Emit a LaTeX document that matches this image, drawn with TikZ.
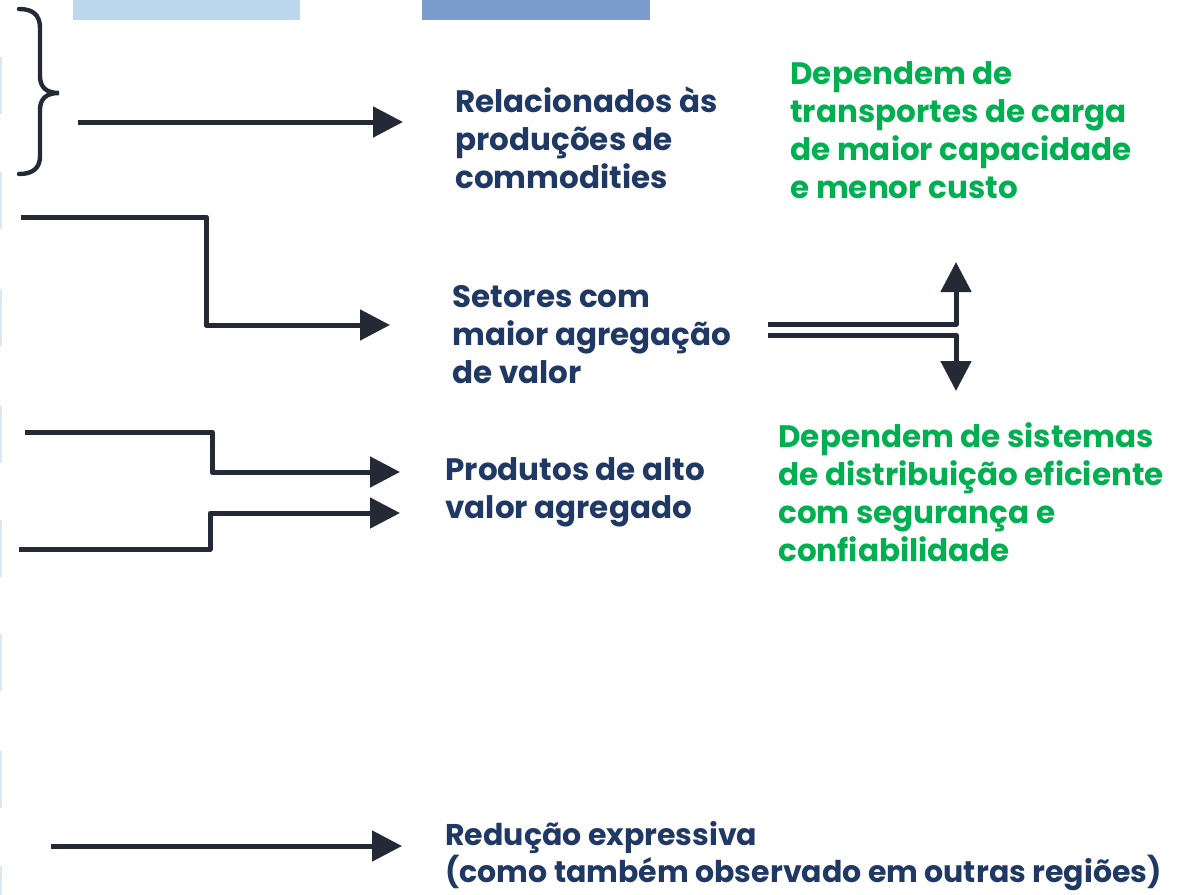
\documentclass[tikz,border=0pt]{standalone}
\usepackage{fontspec}
\setmainfont{Poppins}
\usetikzlibrary{arrows.meta,positioning}
\definecolor{arrowgray}{HTML}{232A35}
\definecolor{txtblue}{HTML}{203864}
\definecolor{txtgreen}{HTML}{00B050}
\definecolor{barlight}{HTML}{BDD7EE}
\definecolor{bardark}{HTML}{7A9CCC}
\definecolor{stripblue}{HTML}{DCE7F4}
\tikzset{
	flow/.style={draw=arrowgray, line width=2.5pt, line join=round, -{Triangle[length=15pt,width=15pt]}},
	brace/.style={draw=arrowgray, line width=2.2pt, line cap=round},
	bluetxt/.style={anchor=west, inner sep=0pt, align=left, text=txtblue, font=\bfseries\fontsize{15.5}{19}\selectfont},
	greentxt/.style={bluetxt, text=txtgreen}
}

\begin{document}
\begin{tikzpicture}[x=0.5pt,y=-0.5pt]
	\useasboundingbox (0,0) rectangle (1188,894);
	% bars and strips
	\fill[barlight] (73,0) rectangle (300,20);
	\fill[bardark] (422,0) rectangle (650,20);
	\foreach \y in {57,172,289,406,520,634,751,866}
		\fill[stripblue] (0,\y) rectangle (2,\y+57);
	% texts
	\node (comm) at (455,138) [bluetxt] {Relacionados às\\produções de\\commodities};
	\node (carga) at (790,130) [greentxt] {Dependem de\\transportes de carga\\de maior capacidade\\e menor custo};
	\node (setor) at (452,335) [bluetxt] {Setores com\\maior agregação\\de valor};
	\node (prod) at (445,492) [bluetxt] {Produtos de alto\\valor agregado};
	\node (dist) at (778,492) [greentxt] {Dependem de sistemas\\de distribuição eficiente\\com segurança e\\confiabilidade};
	\node (red) at (445,856) [bluetxt, font=\bfseries\fontsize{15}{18.5}\selectfont] {Redução expressiva\\(como também observado em outras regiões)};
	% brace
	\draw[brace] (19,9) .. controls (33,9) and (40,15) .. (40,28) -- (40,76)
		.. controls (40,87) and (46,93) .. (59,93) .. controls (46,93) and (40,99) .. (40,110)
		-- (40,156) .. controls (40,168) and (33,174) .. (19,174);
	% arrows
	\coordinate (c1a) at (78,122);
	\coordinate (c1b) at (403,122);
	\coordinate (c2a) at (21,217);
	\coordinate (c2b) at (390,325);
	\coordinate (c3a) at (25,432);
	\coordinate (c3b) at (400,472);
	\coordinate (c4a) at (19,549);
	\coordinate (c4b) at (400,513);
	\coordinate (c5a) at (51,846);
	\coordinate (c5b) at (402,846);
	\coordinate (upa) at (768,324);
	\coordinate (upb) at (956,262);
	\coordinate (dna) at (768,335);
	\coordinate (dnb) at (956,391);
	\draw[flow] (c1a) -- (c1b);
	\draw[flow] (c2a) -- ++(185,0) |- (c2b);
	\draw[flow] (c3a) -- ++(187,0) |- (c3b);
	\draw[flow] (c4a) -- ++(191,0) |- (c4b);
	\draw[flow] (c5a) -- (c5b);
	\draw[flow] (upa) -| (upb);
	\draw[flow] (dna) -| (dnb);
\end{tikzpicture}
\end{document}
